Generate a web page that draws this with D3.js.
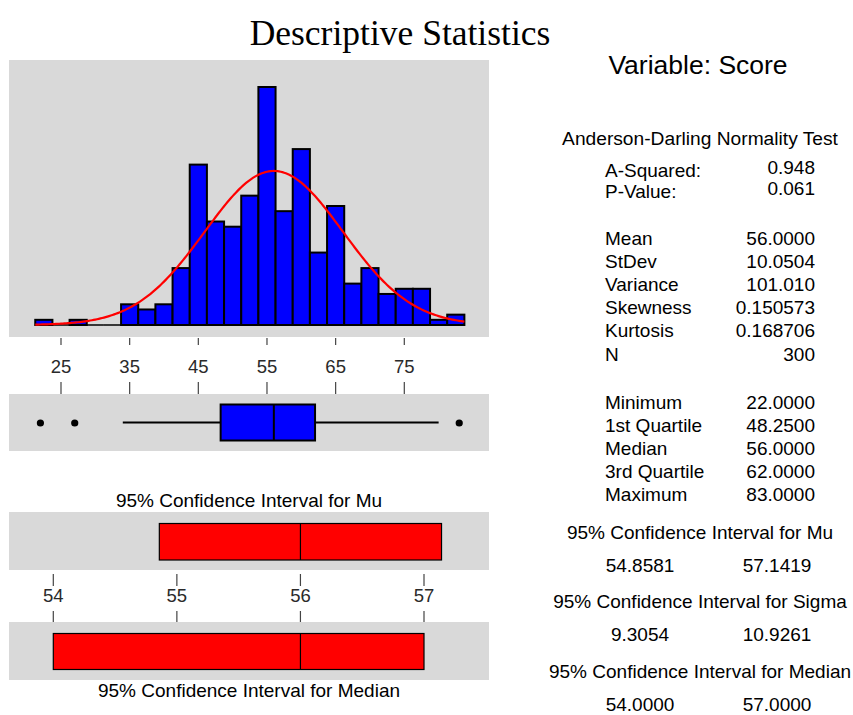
<!DOCTYPE html>
<html>
<head>
<meta charset="utf-8">
<script src="https://cdn.jsdelivr.net/npm/d3@7"></script>
<style>
  html, body { margin: 0; padding: 0; background: #ffffff; }
  svg { display: block; }
</style>
</head>
<body>
<svg id="chart" width="853" height="715"></svg>
<script>
// ---------------- DATA ----------------
const binMids = [22.5, 25, 27.5, 30, 32.5, 35, 37.5, 40, 42.5, 45, 47.5, 50, 52.5, 55, 57.5, 60, 62.5, 65, 67.5, 70, 72.5, 75, 77.5, 80, 82.5];
const binCounts = [1, 0, 1, 0, 0, 4, 3, 4, 11, 31, 20, 19, 25, 46, 22, 34, 14, 23, 8, 11, 6, 7, 7, 1, 2];
const binWidth = 2.5;
const histTicks = [25, 35, 45, 55, 65, 75];

const boxStats = { q1: 48.25, median: 56, q3: 62, whiskerLow: 34, whiskerHigh: 80 };
const outliers = [22, 27, 83];

const meanValue = 56.0;
const sdValue = 10.0504;
const nValue = 300;

const ciMu = [54.8581, 57.1419];
const ciMedian = [54.0, 57.0];
const ciTicks = [54, 55, 56, 57];

const adRows = [["A-Squared:", "0.948"], ["P-Value:", "0.061"]];
const momentRows = [["Mean", "56.0000"], ["StDev", "10.0504"], ["Variance", "101.010"], ["Skewness", "0.150573"], ["Kurtosis", "0.168706"], ["N", "300"]];
const quantRows = [["Minimum", "22.0000"], ["1st Quartile", "48.2500"], ["Median", "56.0000"], ["3rd Quartile", "62.0000"], ["Maximum", "83.0000"]];
const ciBlocks = [
  ["95% Confidence Interval for Mu", "54.8581", "57.1419"],
  ["95% Confidence Interval for Sigma", "9.3054", "10.9261"],
  ["95% Confidence Interval for Median", "54.0000", "57.0000"]
];

// ---------------- DRAWING ----------------
const svg = d3.select("#chart");
const SANS = "'Liberation Sans', Arial, sans-serif";
const SERIF = "'Liberation Serif', 'Times New Roman', serif";
const PANEL = "#d9d9d9";
const TXT = "#2a2a2a";

const panelX0 = 9, panelX1 = 489;

// Title
svg.append("text").attr("x", 400).attr("y", 45).attr("text-anchor", "middle")
  .attr("font-family", SERIF).attr("font-size", 35.5).attr("fill", "#000")
  .text("Descriptive Statistics");

// Histogram scales
const x = d3.scaleLinear().domain([25, 75]).range([61, 404.3]);
const yH = d3.scaleLinear().domain([0, d3.max(binCounts)]).range([325, 87]);

// Histogram panel
svg.append("rect").attr("x", panelX0).attr("y", 60).attr("width", panelX1 - panelX0).attr("height", 277).attr("fill", PANEL);

const bins = binMids.map((m, i) => ({ x0: m - binWidth / 2, x1: m + binWidth / 2, n: binCounts[i] }));
svg.append("g").selectAll("rect").data(bins.filter(d => d.n > 0)).join("rect")
  .attr("x", d => x(d.x0)).attr("y", d => yH(d.n))
  .attr("width", d => x(d.x1) - x(d.x0)).attr("height", d => yH(0) - yH(d.n))
  .attr("fill", "#0000ff").attr("stroke", "#000").attr("stroke-width", 2);

// baseline segments for empty bins
svg.append("g").selectAll("line").data(bins.filter(d => d.n === 0)).join("line")
  .attr("x1", d => x(d.x0)).attr("x2", d => x(d.x1))
  .attr("y1", yH(0)).attr("y2", yH(0)).attr("stroke", "#000").attr("stroke-width", 1.5);

// Fitted normal curve from displayed mean / stdev
const lo = binMids[0] - binWidth / 2, hi = binMids[binMids.length - 1] + binWidth / 2;
const pdf = v => nValue * binWidth * Math.exp(-0.5 * ((v - meanValue) / sdValue) ** 2) / (sdValue * Math.sqrt(2 * Math.PI));
const curvePts = d3.range(lo, hi + 0.001, 0.25).map(v => [v, pdf(v)]);
svg.append("path").datum(curvePts)
  .attr("d", d3.line().x(d => x(d[0])).y(d => yH(d[1])))
  .attr("fill", "none").attr("stroke", "#ff0000").attr("stroke-width", 2.2);

// Axis with ticks above and below labels
function tickAxis(scale, ticks, yTop1, yTop2, yLab, yBot1, yBot2, fs) {
  const g = svg.append("g");
  g.selectAll("line.a").data(ticks).join("line").attr("class", "a")
    .attr("x1", d => scale(d)).attr("x2", d => scale(d)).attr("y1", yTop1).attr("y2", yTop2)
    .attr("stroke", "#444").attr("stroke-width", 1.2);
  g.selectAll("line.b").data(ticks).join("line").attr("class", "b")
    .attr("x1", d => scale(d)).attr("x2", d => scale(d)).attr("y1", yBot1).attr("y2", yBot2)
    .attr("stroke", "#444").attr("stroke-width", 1.2);
  g.selectAll("text").data(ticks).join("text")
    .attr("x", d => scale(d)).attr("y", yLab).attr("text-anchor", "middle")
    .attr("dominant-baseline", "central")
    .attr("font-family", SANS).attr("font-size", fs).attr("fill", TXT)
    .text(d => d);
}
tickAxis(x, histTicks, 338, 345, 366, 382, 394, 18.5);

// Box plot panel
svg.append("rect").attr("x", panelX0).attr("y", 394).attr("width", panelX1 - panelX0).attr("height", 57).attr("fill", PANEL);
const boxMidY = 422.5;
svg.append("line").attr("x1", x(boxStats.whiskerLow)).attr("x2", x(boxStats.q1))
  .attr("y1", boxMidY).attr("y2", boxMidY).attr("stroke", "#000").attr("stroke-width", 2);
svg.append("line").attr("x1", x(boxStats.q3)).attr("x2", x(boxStats.whiskerHigh))
  .attr("y1", boxMidY).attr("y2", boxMidY).attr("stroke", "#000").attr("stroke-width", 2);
svg.append("rect").attr("x", x(boxStats.q1)).attr("y", 404.5)
  .attr("width", x(boxStats.q3) - x(boxStats.q1)).attr("height", 36)
  .attr("fill", "#0000ff").attr("stroke", "#000").attr("stroke-width", 2);
svg.append("line").attr("x1", x(boxStats.median)).attr("x2", x(boxStats.median))
  .attr("y1", 404.5).attr("y2", 440.5).attr("stroke", "#000").attr("stroke-width", 2);
svg.append("g").selectAll("circle").data(outliers).join("circle")
  .attr("cx", d => x(d)).attr("cy", boxMidY + 0.5).attr("r", 3.6).attr("fill", "#000");

// CI panels
const xc = d3.scaleLinear().domain([54, 57]).range([53.3, 424]);
svg.append("text").attr("x", 249).attr("y", 500).attr("text-anchor", "middle").attr("dominant-baseline", "central")
  .attr("font-family", SANS).attr("font-size", 19).attr("fill", "#000").text("95% Confidence Interval for Mu");

svg.append("rect").attr("x", panelX0).attr("y", 512).attr("width", panelX1 - panelX0).attr("height", 58).attr("fill", PANEL);
svg.append("rect").attr("x", xc(ciMu[0])).attr("y", 523.5).attr("width", xc(ciMu[1]) - xc(ciMu[0])).attr("height", 36.5)
  .attr("fill", "#ff0000").attr("stroke", "#000").attr("stroke-width", 1.2);
svg.append("line").attr("x1", xc(meanValue)).attr("x2", xc(meanValue)).attr("y1", 523.5).attr("y2", 560)
  .attr("stroke", "#000").attr("stroke-width", 1.2);

tickAxis(xc, ciTicks, 574, 586, 595, 611, 623, 18.5);

svg.append("rect").attr("x", panelX0).attr("y", 622).attr("width", panelX1 - panelX0).attr("height", 58).attr("fill", PANEL);
svg.append("rect").attr("x", xc(ciMedian[0])).attr("y", 633.5).attr("width", xc(ciMedian[1]) - xc(ciMedian[0])).attr("height", 36)
  .attr("fill", "#ff0000").attr("stroke", "#000").attr("stroke-width", 1.2);
svg.append("line").attr("x1", xc(boxStats.median)).attr("x2", xc(boxStats.median)).attr("y1", 633.5).attr("y2", 669.5)
  .attr("stroke", "#000").attr("stroke-width", 1.2);
svg.append("text").attr("x", 249).attr("y", 690).attr("text-anchor", "middle").attr("dominant-baseline", "central")
  .attr("font-family", SANS).attr("font-size", 19).attr("fill", "#000").text("95% Confidence Interval for Median");

// Right-hand text
const R = svg.append("g").attr("font-family", SANS).attr("fill", "#000");
R.append("text").attr("x", 698).attr("y", 65).attr("text-anchor", "middle").attr("dominant-baseline", "central")
  .attr("font-size", 26.5).text("Variable: Score");
R.append("text").attr("x", 700).attr("y", 138).attr("text-anchor", "middle").attr("dominant-baseline", "central")
  .attr("font-size", 19.2).text("Anderson-Darling Normality Test");

const labX = 605, valX = 815, fsz = 19;
function rows(data, y0, step, valOffset) {
  data.forEach((r, i) => {
    R.append("text").attr("x", labX).attr("y", y0 + i * step).attr("dominant-baseline", "central")
      .attr("font-size", fsz).text(r[0]);
    R.append("text").attr("x", valX).attr("y", y0 + i * step + valOffset).attr("text-anchor", "end").attr("dominant-baseline", "central")
      .attr("font-size", fsz).text(r[1]);
  });
}
rows(adRows, 170, 21, -3);
rows(momentRows, 238, 23.2, 0);
rows(quantRows, 402, 23, 0);

ciBlocks.forEach((b, i) => {
  const yT = 532 + i * 69.5;
  R.append("text").attr("x", 700).attr("y", yT).attr("text-anchor", "middle").attr("dominant-baseline", "central")
    .attr("font-size", fsz).text(b[0]);
  R.append("text").attr("x", 640).attr("y", yT + 33).attr("text-anchor", "middle").attr("dominant-baseline", "central")
    .attr("font-size", fsz).text(b[1]);
  R.append("text").attr("x", 777).attr("y", yT + 33).attr("text-anchor", "middle").attr("dominant-baseline", "central")
    .attr("font-size", fsz).text(b[2]);
});
</script>
</body>
</html>
